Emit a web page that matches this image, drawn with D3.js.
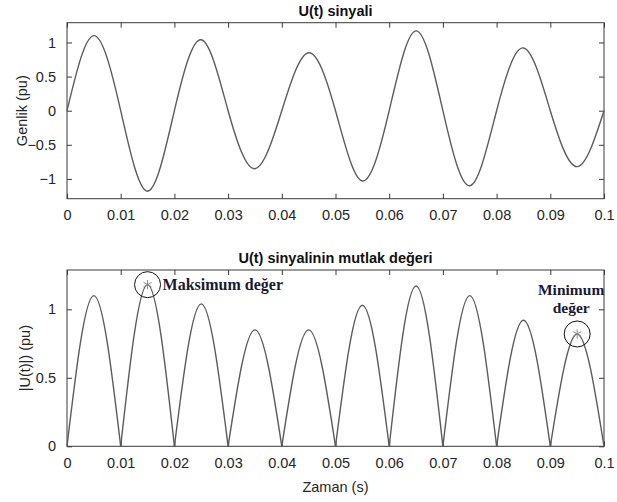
<!DOCTYPE html>
<html>
<head>
<meta charset="UTF-8" />
<script src="https://d3js.org/d3.v7.min.js"></script>
<style>
  body { margin: 0; background: #fff; }
  text { font-family: Arial, "Liberation Sans", sans-serif; }
</style>
</head>
<body>
<div id="chart"></div>
<script>
// values
const zeroTimes = [0, 0.01, 0.02, 0.03, 0.04, 0.05, 0.06, 0.07, 0.08, 0.09, 0.1];
const peakTimes = [0.005, 0.015, 0.025, 0.035, 0.045, 0.055, 0.065, 0.075, 0.085, 0.095];
const peakValues = [1.10, -1.18, 1.04, -0.85, 0.85, -1.03, 1.17, -1.10, 0.92, -0.82];
const xTicks = [0, 0.01, 0.02, 0.03, 0.04, 0.05, 0.06, 0.07, 0.08, 0.09, 0.1];
const xTickLabels = ["0", "0.01", "0.02", "0.03", "0.04", "0.05", "0.06", "0.07", "0.08", "0.09", "0.1"];
const yTicksTop = [-1, -0.5, 0, 0.5, 1];
const yTicksBottom = [0, 0.5, 1];
const maxIndex = 1, minIndex = 9;

const W = 617, H = 502;
const svg = d3.select("#chart").append("svg").attr("width", W).attr("height", H);

const left = 67, right = 604;
const x = d3.scaleLinear().domain([0, 0.1]).range([left, right]);
const yTop = d3.scaleLinear().domain([-1.29, 1.29]).range([198.7, 22.7]);
const yBot = d3.scaleLinear().domain([0, 1.287]).range([446.3, 270]);

const axisColor = "#3a3a3a", textColor = "#262626", lineColor = "#5c5c5c";

function drawAxes(y, yTicks, top, bottom, title, ylabel, ylabelX) {
  const g = svg.append("g");
  // inward ticks, all four sides (box on)
  const fmt = (d, i) => xTickLabels[i];
  g.append("g").attr("transform", `translate(0,${bottom})`)
    .call(d3.axisBottom(x).tickValues(xTicks).tickFormat(fmt).tickSizeInner(-5).tickSizeOuter(0).tickPadding(11));
  g.append("g").attr("transform", `translate(0,${top})`)
    .call(d3.axisTop(x).tickValues(xTicks).tickFormat("").tickSizeInner(-5).tickSizeOuter(0));
  g.append("g").attr("transform", `translate(${left},0)`)
    .call(d3.axisLeft(y).tickValues(yTicks).tickFormat(d3.format("")).tickSizeInner(-5).tickSizeOuter(0).tickPadding(11));
  g.append("g").attr("transform", `translate(${right},0)`)
    .call(d3.axisRight(y).tickValues(yTicks).tickFormat("").tickSizeInner(-5).tickSizeOuter(0));
  g.selectAll(".domain").remove();
  g.selectAll(".tick line").attr("stroke", axisColor);
  g.selectAll(".tick text").attr("fill", textColor).style("font-size", "14.5px");
  g.append("rect").attr("x", left).attr("y", top).attr("width", right - left).attr("height", bottom - top)
    .attr("fill", "none").attr("stroke", axisColor).attr("stroke-width", 1);
  svg.append("text").attr("x", (left + right) / 2).attr("y", top - 7).attr("text-anchor", "middle")
    .style("font-size", "14.5px").style("font-weight", "bold").attr("fill", "#111").text(title);
  svg.append("text").attr("transform", `translate(${ylabelX},${(top + bottom) / 2}) rotate(-90)`)
    .attr("text-anchor", "middle").attr("dy", "0.35em").style("font-size", "14.5px").attr("fill", textColor).text(ylabel);
}

drawAxes(yTop, yTicksTop, 22.7, 198.7, "U(t) sinyali", "Genlik (pu)", 22);
drawAxes(yBot, yTicksBottom, 270, 446.3, "U(t) sinyalinin mutlak değeri", "|U(t)|) (pu)", 25);

// top waveform: zero crossings and peaks joined by a natural spline
const pts = [];
zeroTimes.forEach((t, i) => {
  pts.push([t, 0]);
  if (i < peakTimes.length) pts.push([peakTimes[i], peakValues[i]]);
});
svg.append("path").datum(pts)
  .attr("fill", "none").attr("stroke", lineColor).attr("stroke-width", 1.4)
  .attr("d", d3.line().x(d => x(d[0])).y(d => yTop(d[1])).curve(d3.curveNatural));

// bottom: one hump per half cycle
const humpLine = d3.line().x(d => x(d[0])).y(d => yBot(d[1])).curve(d3.curveNatural);
svg.append("g").selectAll("path").data(peakTimes.map((t, i) => [[zeroTimes[i], 0], [t, Math.abs(peakValues[i])], [zeroTimes[i + 1], 0]]))
  .join("path")
  .attr("fill", "none").attr("stroke", lineColor).attr("stroke-width", 1.4)
  .attr("d", humpLine);

// markers
function marker(i) {
  const cx = x(peakTimes[i]), cy = yBot(Math.abs(peakValues[i]));
  svg.append("path").attr("d", d3.symbol(d3.symbolAsterisk, 60)())
    .attr("transform", `translate(${cx},${cy})`).attr("stroke", "#8a8a8a").attr("stroke-width", 1).attr("fill", "none");
  svg.append("circle").attr("cx", cx).attr("cy", cy).attr("r", 13)
    .attr("fill", "none").attr("stroke", "#111").attr("stroke-width", 1);
  return [cx, cy];
}
const [mx, my] = marker(maxIndex);
const [nx, ny] = marker(minIndex);

const serif = "'Liberation Serif', 'Times New Roman', serif";
svg.append("text").attr("x", mx + 15).attr("y", my + 5)
  .style("font-family", serif).style("font-weight", "bold").style("font-size", "16px").attr("fill", "#1a1a33")
  .text("Maksimum değer");
svg.append("text").attr("x", nx - 6).attr("y", ny - 39).attr("text-anchor", "middle")
  .style("font-family", serif).style("font-weight", "bold").style("font-size", "15.5px").attr("fill", "#1a1a33")
  .text("Minimum");
svg.append("text").attr("x", nx - 6).attr("y", ny - 21).attr("text-anchor", "middle")
  .style("font-family", serif).style("font-weight", "bold").style("font-size", "15.5px").attr("fill", "#1a1a33")
  .text("değer");

svg.append("text").attr("x", (left + right) / 2).attr("y", 491.5).attr("text-anchor", "middle")
  .style("font-size", "14.5px").attr("fill", textColor).text("Zaman (s)");
</script>
</body>
</html>
